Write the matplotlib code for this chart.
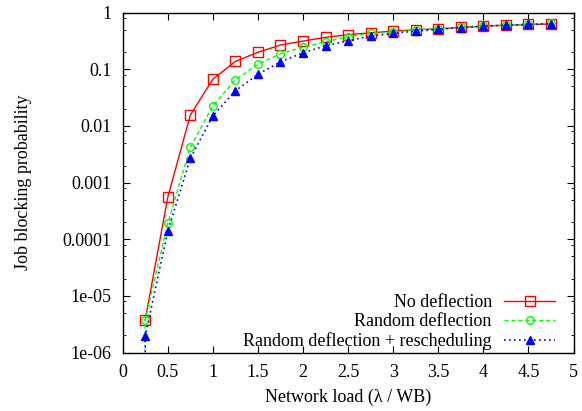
import matplotlib
matplotlib.use('Agg')
import matplotlib.pyplot as plt
import numpy as np
from matplotlib.ticker import LogLocator, NullFormatter

plt.rcParams['font.family'] = ['Liberation Serif', 'DejaVu Serif']
plt.rcParams['font.size'] = 13

# network load values
load = [0.25, 0.5, 0.75, 1.0, 1.25, 1.5, 1.75, 2.0, 2.25, 2.5, 2.75,
        3.0, 3.25, 3.5, 3.75, 4.0, 4.25, 4.5, 4.75]

no_defl = [3.8e-6, 5.5e-4, 0.0156, 0.067, 0.138, 0.20, 0.269, 0.316, 0.367,
           0.41, 0.44, 0.475, 0.50, 0.52, 0.55, 0.58, 0.60, 0.62, 0.63]

# first entry at 0.25 is zero (drawn down to the axis edge)
rand_load = [0.25] + load
rand_defl = [0.0, 3.8e-6, 1.9e-4, 0.0042, 0.0227, 0.0655, 0.1225, 0.189, 0.245,
             0.307, 0.377, 0.432, 0.456, 0.494, 0.525, 0.555, 0.585, 0.61, 0.625, 0.65]
rand_resched = [0.0, 1.95e-6, 1.39e-4, 0.00267, 0.0151, 0.0419, 0.0816, 0.136,
                0.196, 0.261, 0.32, 0.387, 0.432, 0.475, 0.51, 0.545, 0.58,
                0.605, 0.62, 0.64]

xticks = [0, 0.5, 1, 1.5, 2, 2.5, 3, 3.5, 4, 4.5, 5]
xlabels = ['0', '0.5', '1', '1.5', '2', '2.5', '3', '3.5', '4', '4.5', '5']
yticks = [1e-6, 1e-5, 1e-4, 1e-3, 1e-2, 1e-1, 1]
ylabels = ['1e-06', '1e-05', '0.0001', '0.001', '0.01', '0.1', '1']

fig = plt.figure(figsize=(5.82, 4.11), dpi=100)
ax = fig.add_axes([0.2108, 0.1423, 0.7746, 0.8267])

ax.plot(load, no_defl, color='#ff0000', ls='-', lw=1.0, marker='s', ms=6.5,
        mfc='none', mec='#ff0000', mew=1.0, label='No deflection')
ax.plot(rand_load, rand_defl, color='#00ff00', ls=(0, (3, 2)), lw=1.0, marker='o', ms=5.5,
        mfc='none', mec='#00ff00', mew=1.0, label='Random deflection')
ax.plot(rand_load, rand_resched, color='#0000ff', ls=(0, (1, 2)), lw=1.2, marker='^', ms=5.5,
        mfc='#0000ff', mec='#0000ff', label='Random deflection + rescheduling')

ax.set_yscale('log', nonpositive='clip')
ax.set_xlim(0, 5)
ax.set_ylim(1e-6, 1)
ax.set_xticks(xticks, xlabels)
ax.set_yticks(yticks, ylabels)
ax.yaxis.set_minor_locator(LogLocator(base=10, subs=[2, 5, 8]))
ax.yaxis.set_minor_formatter(NullFormatter())

ax.tick_params(which='both', direction='in', top=True, right=True)
ax.tick_params(which='major', length=5, width=0.8, pad=8)
ax.tick_params(which='minor', length=2.5, width=0.6)
for s in ax.spines.values():
    s.set_linewidth(1.0)

ax.set_xlabel('Network load (\u03bb / WB)', labelpad=6)
ax.set_ylabel('Job blocking probability', labelpad=22)

leg = ax.legend(loc='lower right', frameon=False, markerfirst=False,
                handlelength=2.8, handletextpad=0.7, labelspacing=0.12,
                borderaxespad=0.0, bbox_to_anchor=(0.975, -0.015))
# right-align the legend rows like gnuplot does
leg._legend_handle_box.get_children()[0].align = 'right'

fig.savefig('out.png', dpi=100)
